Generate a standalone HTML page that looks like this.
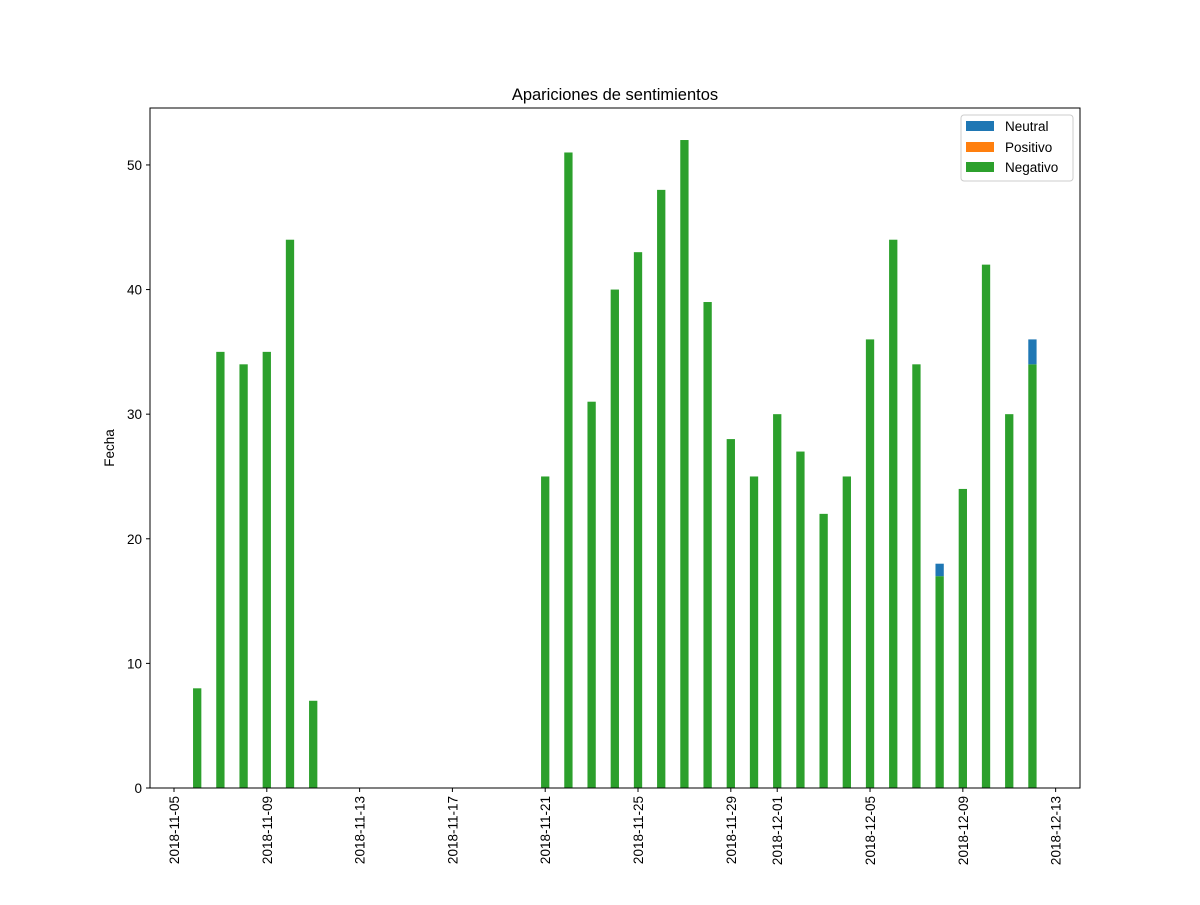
<!DOCTYPE html>
<html><head><meta charset="utf-8"><style>
body{margin:0;background:#fff;}
svg text{font-family:"Liberation Sans","DejaVu Sans",sans-serif;fill:#000;}
</style></head><body>
<svg id="chart" width="1200" height="900" xmlns="http://www.w3.org/2000/svg">
<rect width="1200" height="900" fill="#fff"/>
<g id="bars"></g>
<g id="axes"></g>
<text x="615" y="100" text-anchor="middle" font-size="16.5">Apariciones de sentimientos</text>
<text transform="translate(114,448) rotate(-90)" text-anchor="middle" font-size="13.5">Fecha</text>
<g>
<rect x="961" y="115" width="112" height="66" rx="3" fill="#fff" stroke="#ccc"/>
<rect x="966" y="121" width="28" height="10" fill="#1f77b4"/>
<text x="1005" y="131" font-size="13.5">Neutral</text>
<rect x="966" y="142" width="28" height="10" fill="#ff7f0e"/>
<text x="1005" y="152" font-size="13.5">Positivo</text>
<rect x="966" y="162" width="28" height="10" fill="#2ca02c"/>
<text x="1005" y="172" font-size="13.5">Negativo</text>
</g>
</svg>
<script>
const dayOffsets = [1,2,3,4,5,6,16,17,18,19,20,21,22,23,24,25,26,27,28,29,30,31,32,33,34,35,36,37];
const neutral  = [0,0,0,0,0,0,0,0,0,0,0,0,0,0,0,0,0,0,0,0,0,0,0,1,0,0,0,2];
const positivo = [0,0,0,0,0,0,0,0,0,0,0,0,0,0,0,0,0,0,0,0,0,0,0,0,0,0,0,0];
const negativo = [8,35,34,35,44,7,25,51,31,40,43,48,52,39,28,25,30,27,22,25,36,44,34,17,24,42,30,34];
const xTickDays = [0,4,8,12,16,20,24,26,30,34,38];
const xTickLabels = ["2018-11-05","2018-11-09","2018-11-13","2018-11-17","2018-11-21","2018-11-25","2018-11-29","2018-12-01","2018-12-05","2018-12-09","2018-12-13"];
const yTicks = [0,10,20,30,40,50];

const L=150,R=1080,T=108,B=788;
const xMin=-1.034,xMax=39.05,yMax=54.57;
const x=d=>L+(d-xMin)/(xMax-xMin)*(R-L);
const y=v=>B-v/yMax*(B-T);
const NS="http://www.w3.org/2000/svg";
function mk(tag,attrs,parent){const e=document.createElementNS(NS,tag);for(const k in attrs)e.setAttribute(k,attrs[k]);parent.appendChild(e);return e;}
const bars=document.getElementById('bars'),axes=document.getElementById('axes');
const bw=8.3;
dayOffsets.forEach((d,i)=>{
  let base=0;
  [[negativo[i],'#2ca02c','negativo'],[positivo[i],'#ff7f0e','positivo'],[neutral[i],'#1f77b4','neutral']].forEach(([v,c,n])=>{
    if(v<=0)return;
    const r=mk('rect',{x:x(d)-bw/2,y:y(base+v),width:bw,height:y(base)-y(base+v),fill:c},bars);
    
    
    base+=v;
  });
});
const frame=mk('rect',{x:L,y:T,width:R-L,height:B-T,fill:'none',stroke:'#000','stroke-width':1},axes);


yTicks.forEach(v=>{
  mk('line',{x1:L-4,x2:L,y1:y(v),y2:y(v),stroke:'#000'},axes);
  const t=mk('text',{x:L-8,y:y(v)+5,'text-anchor':'end','font-size':'13.5'},axes);
  t.textContent=v;
  
  
});
xTickDays.forEach((d,i)=>{
  mk('line',{x1:x(d),x2:x(d),y1:B,y2:B+4,stroke:'#000'},axes);
  const t=mk('text',{transform:`translate(${x(d)+5},${B+8}) rotate(-90)`,'text-anchor':'end','font-size':'13.5'},axes);
  t.textContent=xTickLabels[i];
  
  
});
</script>
</body></html>
